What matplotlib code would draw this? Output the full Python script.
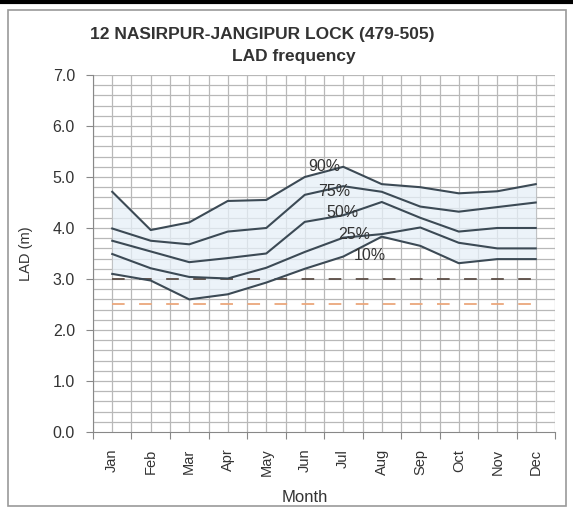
import matplotlib.pyplot as plt
import numpy as np
from matplotlib.patches import Rectangle
from matplotlib.lines import Line2D

plt.rcParams['font.family'] = ['Liberation Sans', 'DejaVu Sans']

mesi = ['Jan', 'Feb', 'Mar', 'Apr', 'May', 'Jun', 'Jul', 'Aug', 'Sep', 'Oct', 'Nov', 'Dec']
p90 = [4.71, 3.96, 4.11, 4.53, 4.55, 5.00, 5.20, 4.86, 4.80, 4.68, 4.72, 4.86]
p75 = [3.99, 3.75, 3.68, 3.93, 4.00, 4.65, 4.82, 4.71, 4.42, 4.32, 4.41, 4.50]
p50 = [3.75, 3.54, 3.33, 3.41, 3.50, 4.12, 4.25, 4.51, 4.20, 3.93, 4.00, 4.00]
p25 = [3.49, 3.21, 3.04, 3.01, 3.22, 3.53, 3.81, 3.88, 4.01, 3.71, 3.60, 3.60]
p10 = [3.10, 2.97, 2.60, 2.70, 2.93, 3.20, 3.44, 3.83, 3.65, 3.31, 3.39, 3.39]
etichette = ['90%', '75%', '50%', '25%', '10%']
lad_alto = 3.0
lad_basso = 2.5

x = np.arange(len(mesi))
serie = [p90, p75, p50, p25, p10]

fig = plt.figure(figsize=(5.73, 5.23), dpi=100)
ax = fig.add_axes([0.1623, 0.174, 0.8063, 0.6826])

# cornice esterna e riga nera in alto
fig.patches.append(Rectangle((8/573, 1-506/523), 558/573, 496/523, transform=fig.transFigure,
                             fill=False, edgecolor='#9a9a9a', lw=1.2))
fig.lines.append(Line2D([0, 1], [1-1.5/523, 1-1.5/523], transform=fig.transFigure, color='black', lw=3))

ax.set_xlim(-0.5, 11.5)
ax.set_ylim(0, 7)

# griglia
for yy in np.arange(0.2, 7.01, 0.2):
    ax.axhline(yy, color='#b8b8b8', lw=0.9, zorder=0)
for xx in np.arange(-0.5, 11.51, 0.5):
    ax.axvline(xx, color='#b8b8b8', lw=0.9, zorder=0)

# riempimento azzurro chiaro
ax.fill_between(x, p10, p90, color='#e6f0f8', alpha=0.75, zorder=1, lw=0)

ax.plot(x, [lad_alto]*len(x), color='#5b4d45', lw=1.3, dashes=(7, 8), zorder=2)
ax.plot(x, [lad_basso]*len(x), color='#eba77c', lw=1.3, dashes=(7, 8), zorder=2)

for s in serie:
    ax.plot(x, s, color='#3c4a55', lw=1.5, zorder=3)

pos = [(5.51, 5.2), (5.77, 4.71), (5.98, 4.31), (6.29, 3.88), (6.68, 3.47)]
for (px, py), t in zip(pos, etichette):
    ax.text(px, py, t, fontsize=11.5, color='#333333', ha='center', va='center', zorder=4)

ax.set_yticks(np.arange(0, 7.01, 1.0))
ax.set_yticklabels(['%.1f' % v for v in np.arange(0, 7.01, 1.0)], fontsize=11.5, color='#333333')
ax.set_xticks(np.arange(-0.5, 11.51, 1.0))
ax.set_xticklabels([])
ax.set_xticks(x, minor=True)
ax.set_xticklabels(mesi, minor=True, rotation=90, fontsize=10.5, color='#333333')
ax.tick_params(axis='x', which='minor', length=0, pad=12)
ax.tick_params(axis='x', which='major', length=5, color='#888888', direction='out')
ax.tick_params(axis='y', length=5, color='#888888', direction='out', pad=8)

for k in ['top', 'right']:
    ax.spines[k].set_visible(False)
ax.spines['left'].set_color('#888888')
ax.spines['bottom'].set_color('#888888')

ax.set_ylabel('LAD (m)', fontsize=10.5, color='#333333', labelpad=14)
ax.set_xlabel('Month', fontsize=12, color='#333333', labelpad=8)
ax.xaxis.set_label_coords(0.459, -0.162)

fig.text(262/573, 1-35/523, '12 NASIRPUR-JANGIPUR LOCK (479-505)', ha='center', va='center',
         fontsize=12.5, fontweight='bold', color='#333333')
fig.text(294/573, 1-56/523, 'LAD frequency', ha='center', va='center',
         fontsize=12.5, fontweight='bold', color='#333333')

plt.savefig('out.png', dpi=100)
